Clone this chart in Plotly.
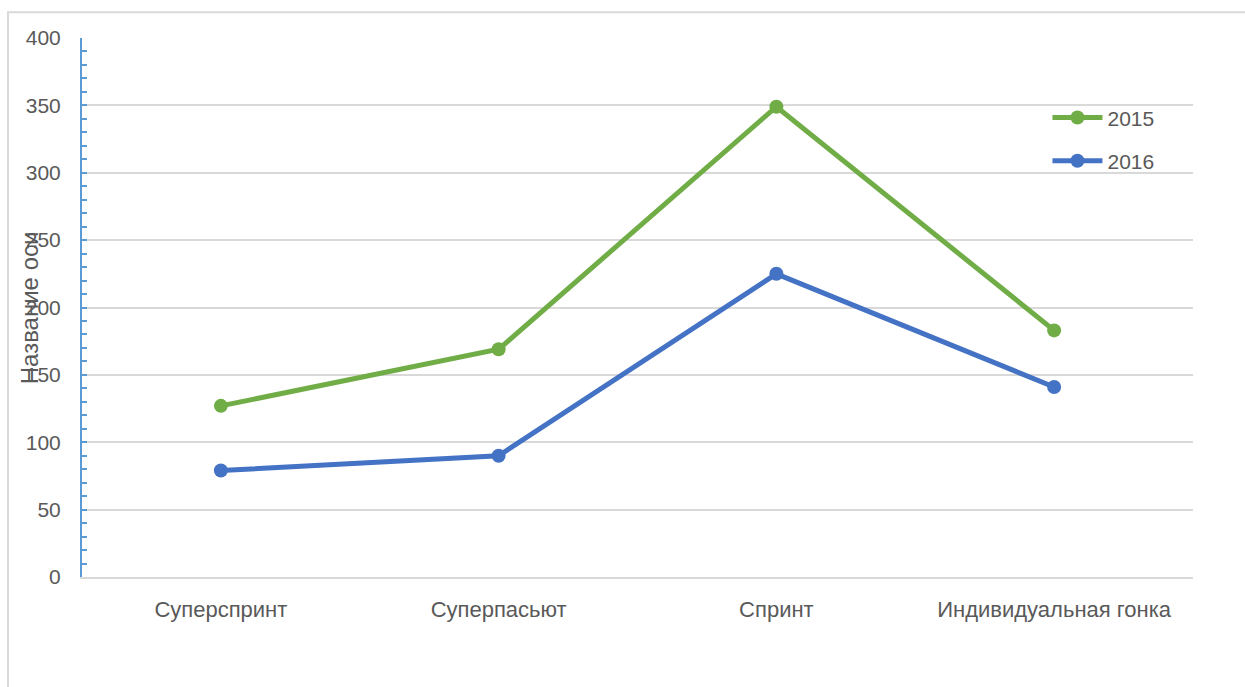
import plotly.graph_objects as go

# Race formats and points per season
categories = ["Суперспринт", "Суперпасьют", "Спринт", "Индивидуальная гонка"]
values_2015 = [127, 169, 349, 183]
values_2016 = [79, 90, 225, 141]
y_ticks = [0, 50, 100, 150, 200, 250, 300, 350, 400]

FONT = "Liberation Sans"
TEXT = "#595959"
GRID = "#D9D9D9"

fig = go.Figure()
fig.add_trace(go.Scatter(
    x=categories, y=values_2015, name="2015", mode="lines+markers",
    line=dict(color="#70AD47", width=5),
    marker=dict(size=14, color="#70AD47"),
    legendgroup="a",
))
fig.add_trace(go.Scatter(
    x=categories, y=values_2016, name="2016", mode="lines+markers",
    line=dict(color="#4472C4", width=5),
    marker=dict(size=14, color="#4472C4"),
    legendgroup="b",
))

fig.update_layout(
    width=1245, height=687,
    margin=dict(l=82, r=52, t=38, b=110),
    paper_bgcolor="white", plot_bgcolor="white",
    font=dict(family=FONT, color=TEXT),
    showlegend=True,
    legend=dict(
        x=0.869, y=0.89, xanchor="left", yanchor="top",
        bgcolor="rgba(0,0,0,0)", font=dict(size=21, color=TEXT, family=FONT),
        tracegroupgap=13, itemwidth=50,
    ),
    xaxis=dict(
        type="category", range=[-0.5, 3.5],
        showgrid=False, showline=True, linecolor=GRID, linewidth=2,
        ticks="", tickfont=dict(size=22, color=TEXT),
        ticklabelstandoff=12,
    ),
    yaxis=dict(
        range=[0, 400], tickvals=y_ticks,
        showgrid=True, gridcolor=GRID, gridwidth=1.5,
        zeroline=False,
        showline=True, linecolor="#5B9BD5", linewidth=2,
        ticks="inside", ticklen=5, tickcolor="#5B9BD5", tickwidth=1.5,
        minor=dict(dtick=10, ticks="inside", ticklen=5,
                   tickcolor="#5B9BD5", tickwidth=1.5, showgrid=False),
        tickfont=dict(size=21, color=TEXT),
        ticklabelstandoff=15,
    ),
    shapes=[dict(
        type="rect", xref="paper", yref="paper",
        x0=-0.0666, y0=-0.6, x1=1.2, y1=1.048,
        line=dict(color=GRID, width=2), fillcolor="rgba(0,0,0,0)",
        layer="below",
    )],
    annotations=[dict(
        text="Название оси", textangle=-90,
        xref="paper", yref="paper", x=-0.047, y=0.5,
        xanchor="center", yanchor="middle", showarrow=False,
        font=dict(size=24, color=TEXT, family=FONT),
    )],
)

fig.write_html("out.html")
